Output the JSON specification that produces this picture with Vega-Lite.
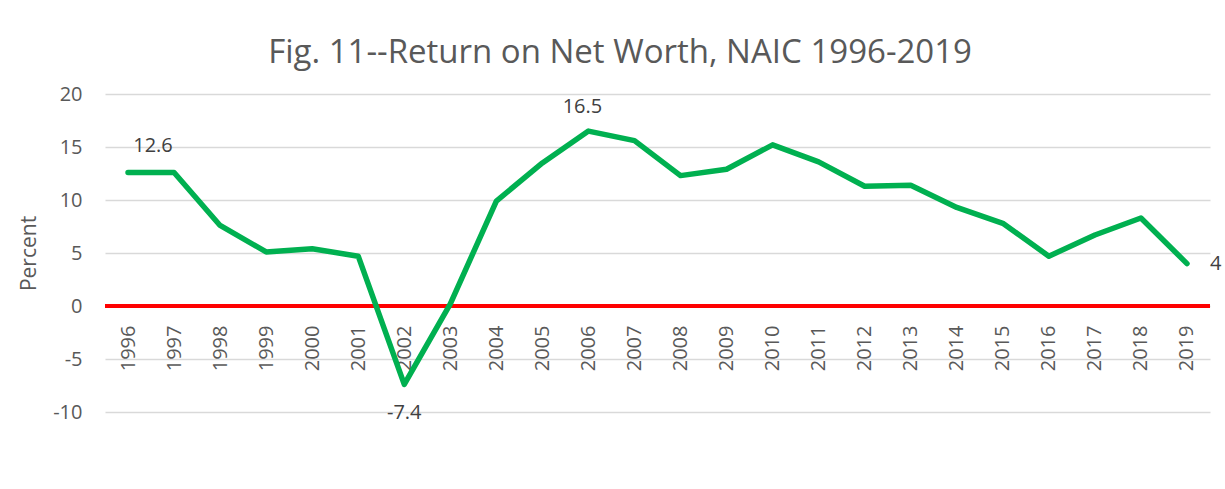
{
  "$schema": "https://vega.github.io/schema/vega-lite/v6.json",
  "autosize": "none",
  "width": 1105,
  "height": 318,
  "padding": {"left": 105, "top": 94, "right": 15, "bottom": 77},
  "background": "white",
  "title": {
    "text": "Fig. 11--Return on Net Worth, NAIC 1996-2019",
    "font": "Open Sans",
    "fontSize": 33,
    "fontWeight": "normal",
    "color": "#595959",
    "anchor": "middle",
    "frame": "bounds",
    "offset": 14
  },
  "data": {
    "values": [
      {"year": "1996", "value": 12.6},
      {"year": "1997", "value": 12.6},
      {"year": "1998", "value": 7.6},
      {"year": "1999", "value": 5.1},
      {"year": "2000", "value": 5.4},
      {"year": "2001", "value": 4.7},
      {"year": "2002", "value": -7.4},
      {"year": "2003", "value": 0.2},
      {"year": "2004", "value": 9.9},
      {"year": "2005", "value": 13.5},
      {"year": "2006", "value": 16.5},
      {"year": "2007", "value": 15.6},
      {"year": "2008", "value": 12.3},
      {"year": "2009", "value": 12.9},
      {"year": "2010", "value": 15.2},
      {"year": "2011", "value": 13.6},
      {"year": "2012", "value": 11.3},
      {"year": "2013", "value": 11.4},
      {"year": "2014", "value": 9.3},
      {"year": "2015", "value": 7.8},
      {"year": "2016", "value": 4.7},
      {"year": "2017", "value": 6.7},
      {"year": "2018", "value": 8.3},
      {"year": "2019", "value": 4}
    ]
  },
  "encoding": {
    "y": {
      "field": "value",
      "type": "quantitative",
      "scale": {"domain": [-10, 20], "nice": false, "zero": false},
      "axis": {
        "title": "Percent",
        "titleFont": "Open Sans",
        "titleFontSize": 21,
        "titleFontWeight": "normal",
        "titleColor": "#595959",
        "titlePadding": 13,
        "values": [-10, -5, 0, 5, 10, 15, 20],
        "labelExpr": "toString(datum.value)",
        "domain": false,
        "ticks": false,
        "labelPadding": 23,
        "labelFont": "Open Sans",
        "labelFontSize": 20,
        "labelColor": "#595959",
        "gridColor": "#d9d9d9",
        "gridWidth": 1.5
      }
    }
  },
  "layer": [
    {
      "mark": {"type": "rule", "color": "#FF0000", "strokeWidth": 2.5},
      "encoding": {"y": {"datum": 0}}
    },
    {
      "mark": {"type": "line", "color": "#00B050", "strokeWidth": 5.5, "strokeJoin": "round", "strokeCap": "round"},
      "encoding": {
        "x": {
          "field": "year",
          "type": "ordinal",
          "scale": {"type": "point", "padding": 0.5},
          "axis": {
            "title": null,
            "offset": -106,
            "domain": false,
            "ticks": false,
            "labelAngle": -90,
            "labelAlign": "right",
            "labelBaseline": "middle",
            "labelPadding": 19,
            "labelFont": "Open Sans",
            "labelFontSize": 20,
            "labelColor": "#595959",
            "grid": false
          }
        }
      }
    },
    {
      "transform": [{"filter": "datum.year == '1996'"}],
      "mark": {"type": "text", "font": "Open Sans", "fontSize": 20, "color": "#404040", "dy": -26, "dx": 25},
      "encoding": {"x": {"field": "year", "type": "ordinal"}, "text": {"field": "value", "type": "nominal"}}
    },
    {
      "transform": [{"filter": "datum.year == '2006'"}],
      "mark": {"type": "text", "font": "Open Sans", "fontSize": 20, "color": "#404040", "dy": -24, "dx": -6},
      "encoding": {"x": {"field": "year", "type": "ordinal"}, "text": {"field": "value", "type": "nominal"}}
    },
    {
      "transform": [{"filter": "datum.year == '2002'"}],
      "mark": {"type": "text", "font": "Open Sans", "fontSize": 20, "color": "#404040", "dy": 29},
      "encoding": {"x": {"field": "year", "type": "ordinal"}, "text": {"field": "value", "type": "nominal"}}
    },
    {
      "transform": [{"filter": "datum.year == '2019'"}],
      "mark": {"type": "text", "font": "Open Sans", "fontSize": 20, "color": "#404040", "align": "left", "dx": 23},
      "encoding": {"x": {"field": "year", "type": "ordinal"}, "text": {"field": "value", "type": "nominal"}}
    }
  ],
  "config": {"view": {"stroke": null}}
}
